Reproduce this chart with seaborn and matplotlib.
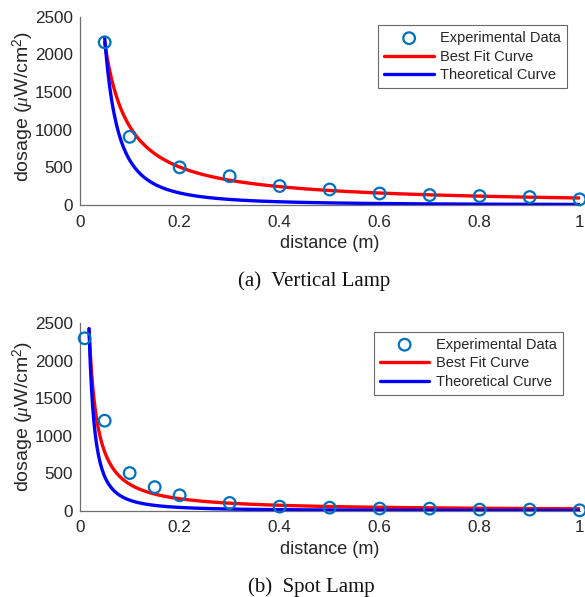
import numpy as np
import pandas as pd
import matplotlib
matplotlib.use("Agg")
import matplotlib.pyplot as plt
import seaborn as sns

sns.set_style("white")
plt.rcParams['font.family'] = ['Liberation Sans', 'DejaVu Sans']
plt.rcParams['mathtext.fontset'] = 'custom'
plt.rcParams['mathtext.rm'] = 'Liberation Sans'
plt.rcParams['mathtext.it'] = 'Liberation Serif:italic'

# measured points, vertical lamp
dist_a = [0.05, 0.1, 0.2, 0.3, 0.4, 0.5, 0.6, 0.7, 0.8, 0.9, 1.0]
dose_a = [2160, 905, 500, 382, 252, 206, 153, 132, 119, 106, 75]
# measured points, spot lamp
dist_b = [0.01, 0.05, 0.1, 0.15, 0.2, 0.3, 0.4, 0.5, 0.6, 0.7, 0.8, 0.9, 1.0]
dose_b = [2300, 1200, 502, 314, 205, 103, 54, 40, 28, 27, 14, 14, 5]

# power-law curves y = k * x^-n  (k, n, x_start)
fit_a = [93, 1.05, 0.05]
theory_a = [7.5, 1.9, 0.05]
fit_b = [25, 1.15, 0.0187]
theory_b = [2.8, 1.7, 0.0187]

captions = ["(a)  Vertical Lamp", "(b)  Spot Lamp"]

blue_pt = (0, 0.447, 0.741)
axcol = "#6e6e6e"
txtcol = "#262626"


def curve(p):
    x = np.linspace(p[2], 1.0, 400)
    return pd.DataFrame({"x": x, "y": p[0] * x ** (-p[1])})


fig = plt.figure(figsize=(5.85, 5.97), dpi=100)
axes = [fig.add_axes([0.1362, 0.6566, 0.8547, 0.3154]),
        fig.add_axes([0.1362, 0.1446, 0.8547, 0.3139])]

panels = [(dist_a, dose_a, fit_a, theory_a), (dist_b, dose_b, fit_b, theory_b)]
legend_anchor = [(0.975, 0.955), (0.966, 0.955)]
ylab_y = [0.525, 0.505]

for ax, (dx, dy, fp, tp), anc, ly in zip(axes, panels, legend_anchor, ylab_y):
    pts = pd.DataFrame({"x": dx, "y": dy})
    sns.scatterplot(data=pts, x="x", y="y", ax=ax, marker="o", s=70,
                    facecolor="none", edgecolor=blue_pt, linewidth=1.6,
                    label="Experimental Data", zorder=5, clip_on=False)
    sns.lineplot(data=curve(fp), x="x", y="y", ax=ax, color="#ff0000",
                 linewidth=2.4, label="Best Fit Curve", zorder=3)
    sns.lineplot(data=curve(tp), x="x", y="y", ax=ax, color="#0000ff",
                 linewidth=2.4, label="Theoretical Curve", zorder=4)

    ax.set_xlim(0, 1)
    ax.set_ylim(0, 2500)
    ax.set_xticks([0, 0.2, 0.4, 0.6, 0.8, 1])
    ax.set_xticklabels(["0", "0.2", "0.4", "0.6", "0.8", "1"])
    ax.set_yticks([0, 500, 1000, 1500, 2000, 2500])
    ax.set_xlabel("distance (m)", fontsize=13, color=txtcol, labelpad=4)
    ax.set_ylabel(r"dosage ($\mu$W/cm$^2$)", fontsize=14, color=txtcol)
    ax.yaxis.set_label_coords(-0.088, ly)
    ax.tick_params(direction="in", length=4, width=0.8, colors=axcol,
                   labelcolor=txtcol, labelsize=12.3, pad=5)
    ax.tick_params(axis="x", pad=7)
    for s in ["top", "right"]:
        ax.spines[s].set_visible(False)
    for s in ["left", "bottom"]:
        ax.spines[s].set_color(axcol)
        ax.spines[s].set_linewidth(0.9)

    leg = ax.legend(loc="upper right", bbox_to_anchor=anc,
                    fontsize=10.5, frameon=True, fancybox=False,
                    handlelength=3.4, handletextpad=0.45, borderpad=0.4,
                    labelspacing=0.32, borderaxespad=0)
    leg.get_frame().set_edgecolor("#444444")
    leg.get_frame().set_linewidth(0.8)

fig.text(0.537, 1 - 281 / 597, captions[0], ha="center", va="center",
         fontsize=15, family="Liberation Serif", color="#111111")
fig.text(0.533, 1 - 587 / 597, captions[1], ha="center", va="center",
         fontsize=15, family="Liberation Serif", color="#111111")

fig.savefig("out.png", dpi=100)
